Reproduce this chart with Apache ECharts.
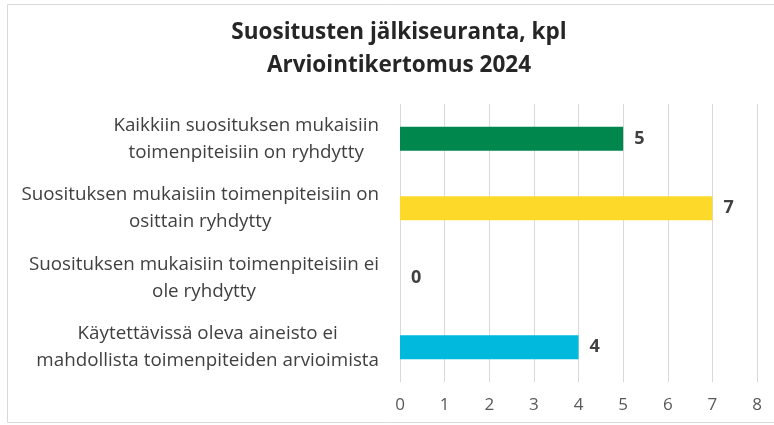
<!DOCTYPE html>
<html>
<head>
<meta charset="utf-8">
<script src="https://cdn.jsdelivr.net/npm/echarts@6/dist/echarts.min.js"></script>
<style>
  html, body { margin: 0; padding: 0; background: #fff; overflow: hidden; }
  #chart { width: 774px; height: 425px; }
</style>
</head>
<body>
<div id="chart"></div>
<script>
const titleLines = ['Suositusten jälkiseuranta, kpl', 'Arviointikertomus 2024'];
const categories = [
    'Kaikkiin suosituksen mukaisiin\ntoimenpiteisiin on ryhdytty',
    'Suosituksen mukaisiin toimenpiteisiin on\nosittain ryhdytty',
    'Suosituksen mukaisiin toimenpiteisiin ei\nole ryhdytty',
    'Käytettävissä oleva aineisto ei\nmahdollista toimenpiteiden arvioimista'
];
const values = [5, 7, 0, 4];
const barColors = ['#00874d', '#fdd92a', '#00874d', '#00b9dd'];

const chart = echarts.init(document.getElementById('chart'));

const frameStyle = { stroke: '#d9d9d9', lineWidth: 1 };

const option = {
    backgroundColor: '#fff',
    textStyle: { fontFamily: 'Open Sans' },
    title: {
        text: titleLines.join('\n'),
        left: 394,
        textAlign: 'center',
        top: 11,
        textStyle: {
            fontFamily: 'Open Sans',
            fontSize: 22.5,
            fontWeight: 'bold',
            color: '#262626',
            lineHeight: 33
        }
    },
    graphic: [
        { type: 'line', silent: true, shape: { x1: 7.5, y1: 4.5, x2: 774, y2: 4.5 }, style: frameStyle },
        { type: 'line', silent: true, shape: { x1: 7.5, y1: 4.5, x2: 7.5, y2: 422.5 }, style: frameStyle },
        { type: 'line', silent: true, shape: { x1: 7.5, y1: 422.5, x2: 774, y2: 422.5 }, style: frameStyle }
    ],
    grid: {
        left: 400,
        right: 17,
        top: 104,
        bottom: 43
    },
    xAxis: {
        type: 'value',
        min: 0,
        max: 8,
        interval: 1,
        axisLine: { show: false },
        axisTick: { show: false },
        splitLine: { lineStyle: { color: '#d9d9d9', width: 1 } },
        axisLabel: {
            margin: 15,
            fontSize: 17,
            color: '#595959',
            fontFamily: 'Open Sans'
        }
    },
    yAxis: {
        type: 'category',
        inverse: true,
        data: categories,
        axisLine: { show: false },
        axisTick: { show: false },
        axisLabel: {
            margin: 21,
            fontFamily: 'Open Sans',
            formatter: (v) => v.split('\n').map(s => '{c|' + s + '}').join('\n'),
            rich: {
                c: {
                    align: 'center',
                    fontSize: 18.8,
                    lineHeight: 27,
                    color: '#404040',
                    fontFamily: 'Open Sans'
                }
            }
        }
    },
    series: [
        {
            type: 'bar',
            barWidth: 24,
            data: values.map((v, i) => ({ value: v, itemStyle: { color: barColors[i] } })),
            label: {
                show: true,
                position: 'right',
                distance: 11,
                fontSize: 18,
                fontWeight: 'bold',
                color: '#404040',
                fontFamily: 'Open Sans'
            }
        }
    ]
};

chart.setOption(option);
</script>
</body>
</html>
